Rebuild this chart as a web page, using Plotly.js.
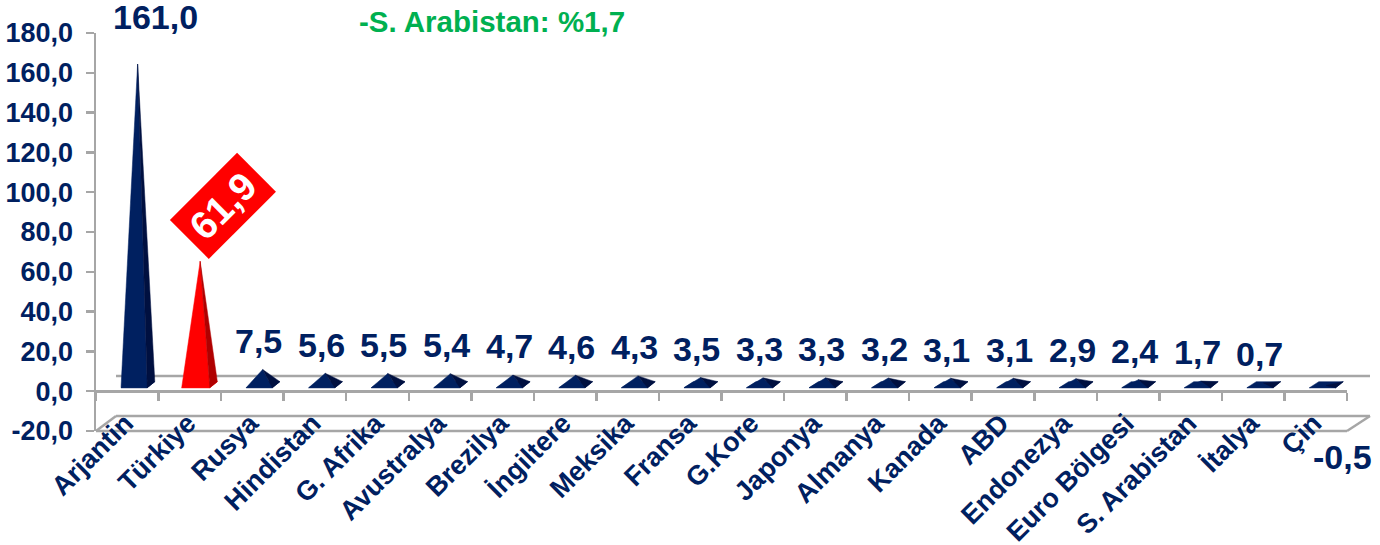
<!DOCTYPE html>
<html>
<head>
<meta charset="utf-8">
<script src="https://cdn.plot.ly/plotly-3.0.1.min.js"></script>
<style>html,body{margin:0;padding:0;background:#fff;overflow:hidden}</style>
</head>
<body>
<div id="chart" style="width:1380px;height:545px"></div>
<script>
const categories = ["Arjantin","Türkiye","Rusya","Hindistan","G. Afrika","Avustralya","Brezilya","İngiltere","Meksika","Fransa","G.Kore","Japonya","Almanya","Kanada","ABD","Endonezya","Euro Bölgesi","S. Arabistan","İtalya","Çin"];
const values = [161.0,61.9,7.5,5.6,5.5,5.4,4.7,4.6,4.3,3.5,3.3,3.3,3.2,3.1,3.1,2.9,2.4,1.7,0.7,-0.5];
const yTicks = [-20,0,20,40,60,80,100,120,140,160,180];
const noteText = "-S. Arabistan: %1,7";

const W = 1380, H = 545, L = 96, R = 1347, T = 33, B = 431;
const NAVY = "#002060", NAVY_DARK = "#001040", RED = "#ff0000", RED_DARK = "#b00000", GRAY = "#a6a6a6";
const fmt = v => v.toFixed(1).replace(".", ",");
const px = p => (p - L) / (R - L);
const py = p => (B - p) / (B - T);

// 3D look of the original: front/back of the pyramid base, in category and axis units
const BASE_FRONT = 1.75, BASE_BACK = 4.8, APEX_LIFT = 3.4;
const FL = -0.1, FR = 0.32, BR = 0.44, BL = 0.05, AX = 0.165;

const traces = [];
// hidden trace that carries the category axis
traces.push({type:"scatter", mode:"none", x:categories, y:values.map(()=>0), xaxis:"x", yaxis:"y", hoverinfo:"skip", showlegend:false});

function face(xs, ys, color){
  traces.push({type:"scatter", mode:"lines", fill:"toself", fillcolor:color, line:{width:0.5,color:color},
    x:xs, y:ys, xaxis:"x2", yaxis:"y", hoverinfo:"skip", showlegend:false});
}
values.forEach((v,i)=>{
  const main = i===1 ? RED : NAVY, dark = i===1 ? RED_DARK : NAVY_DARK;
  const top = v + APEX_LIFT;
  const fl = i===1 ? FL-0.03 : FL;
  face([i+fl,i+FR,i+BR,i+BL,i+fl],[BASE_FRONT,BASE_FRONT,BASE_BACK,BASE_BACK,BASE_FRONT],main);
  face([i+fl,i+FR,i+AX,i+fl],[BASE_FRONT,BASE_FRONT,top,BASE_FRONT],main);
  face([i+FR,i+BR,i+AX,i+FR],[BASE_FRONT,BASE_BACK,top,BASE_FRONT],dark);
});

const annotations = [];
values.forEach((v,i)=>{
  if(i===1){
    annotations.push({xref:"x2",yref:"y",x:i,y:v,xshift:33,yshift:62,text:fmt(v),showarrow:false,textangle:-45,
      bgcolor:RED,width:94,height:54,align:"center",valign:"middle",borderpad:0,
      font:{family:"Liberation Sans",size:39,color:"#fff",weight:700}});
    return;
  }
  let xs = 6.5, ys = 35.5;
  if(i===0){ xs = 28; ys = 54; }
  if(i===19){ xs = 27; ys = -65; }
  annotations.push({xref:"x2",yref:"y",x:i,y:v,xshift:xs,yshift:ys,text:fmt(v),showarrow:false,
    font:{family:"Liberation Sans",size:34,color:NAVY,weight:700}});
});
annotations.push({xref:"paper",yref:"paper",x:px(357),y:py(21),xanchor:"left",yanchor:"middle",text:noteText,showarrow:false,
  font:{family:"Liberation Sans",size:29.5,color:"#00b050",weight:700}});

const seg = (x0,y0,x1,y1)=>({type:"line",xref:"paper",yref:"paper",layer:"below",x0:px(x0),y0:py(y0),x1:px(x1),y1:py(y1),line:{color:GRAY,width:2.5}});
const shapes = [seg(116,376,1370,376),seg(116,416,1370,416),seg(96,431,1347,431),seg(96,431,116,416),seg(1347,431,1370,416)];

const layout = {
  width:W,height:H,paper_bgcolor:"#fff",plot_bgcolor:"rgba(0,0,0,0)",showlegend:false,
  margin:{l:L,r:W-R,t:T,b:H-B,pad:0},
  xaxis:{type:"category",categories:categories,categoryorder:"array",categoryarray:categories,anchor:"free",position:0.1,
    tickson:"boundaries",ticks:"outside",ticklen:8,tickwidth:2.5,tickcolor:GRAY,showline:true,linecolor:GRAY,linewidth:2.5,
    showgrid:false,zeroline:false,tickangle:-45,ticklabelstandoff:4,ticklabelshift:-2,range:[-0.5,19.5],
    tickfont:{family:"Liberation Sans",size:27,color:NAVY,weight:700}},
  xaxis2:{overlaying:"x",range:[-0.5,19.5],visible:false,anchor:"y",fixedrange:true},
  yaxis:{range:[-20,180],tickmode:"array",tickvals:yTicks,ticktext:yTicks.map(fmt),
    ticks:"outside",ticklen:8,tickwidth:2.5,tickcolor:GRAY,showline:true,linecolor:GRAY,linewidth:2.5,
    showgrid:false,zeroline:false,ticklabelstandoff:7,
    tickfont:{family:"Liberation Sans",size:27,color:NAVY,weight:700}},
  shapes:shapes,annotations:annotations
};
Plotly.newPlot("chart",traces,layout,{staticPlot:true,displayModeBar:false});
</script>
</body>
</html>
